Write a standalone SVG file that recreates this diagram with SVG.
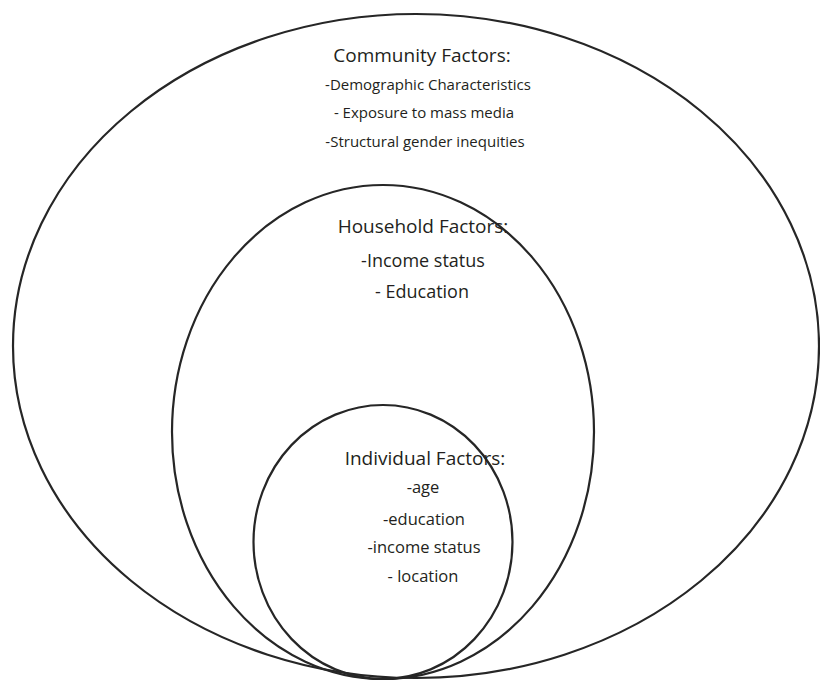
<svg xmlns="http://www.w3.org/2000/svg" width="820" height="681" viewBox="0 0 820 681">
<style>
.ring{fill:none;stroke:#262626;stroke-width:2.2}
.t{font-family:"Open Sans","Noto Sans",sans-serif;fill:#231f20;text-anchor:middle}
.h{font-size:19px}
.s{font-size:15px}
.m{font-size:18px}
.i{font-size:16.5px}
</style>
<rect width="820" height="681" fill="#fff"/>
<g id="community">
<ellipse class="ring" cx="416" cy="346" rx="403" ry="332"/>
<text class="t h" x="422" y="62">Community Factors:</text>
<text class="t s" x="428" y="90">-Demographic Characteristics</text>
<text class="t s" x="424" y="118">- Exposure to mass media</text>
<text class="t s" x="425" y="147">-Structural gender inequities</text>
</g>
<g id="household">
<ellipse class="ring" cx="383" cy="432" rx="211" ry="247"/>
<text class="t h" x="423" y="233">Household Factors:</text>
<text class="t m" x="423" y="267">-Income status</text>
<text class="t m" x="422" y="298">- Education</text>
</g>
<g id="individual">
<ellipse class="ring" cx="383" cy="542" rx="129.5" ry="137"/>
<text class="t h" x="425" y="465">Individual Factors:</text>
<text class="t i" x="423" y="493">-age</text>
<text class="t i" x="424" y="525">-education</text>
<text class="t i" x="424" y="553">-income status</text>
<text class="t i" x="423" y="582">- location</text>
</g>
</svg>
